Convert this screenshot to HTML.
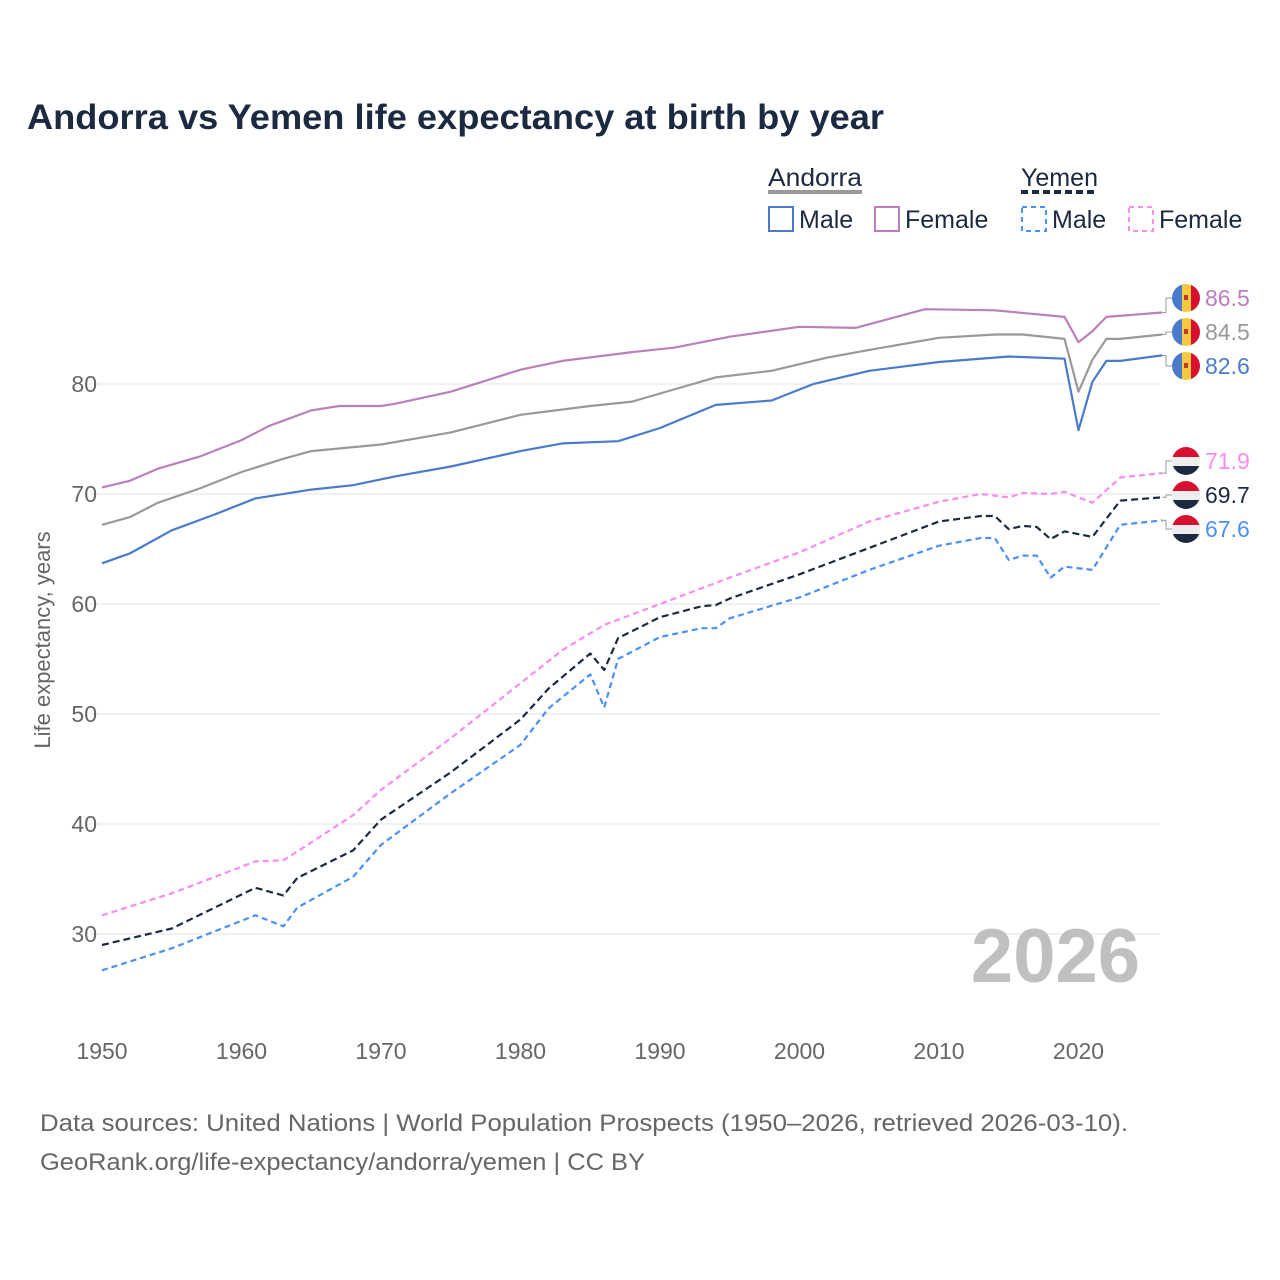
<!DOCTYPE html>
<html><head><meta charset="utf-8"><style>
html,body{margin:0;padding:0;background:#fff;width:1280px;height:1280px;overflow:hidden}
svg{display:block;font-family:"Liberation Sans",sans-serif}
</style></head><body>
<svg id="chart" width="1280" height="1280" viewBox="0 0 1280 1280">
<text x="27" y="129" font-size="35" font-weight="bold" fill="#1b2a41" textLength="857" lengthAdjust="spacingAndGlyphs">Andorra vs Yemen life expectancy at birth by year</text>
<g font-size="25" fill="#1b2a41">
 <text x="768" y="186" textLength="94" lengthAdjust="spacingAndGlyphs">Andorra</text>
 <line x1="768" y1="192" x2="862" y2="192" stroke="#999" stroke-width="4"/>
 <rect x="769" y="207" width="24" height="24" fill="none" stroke="#4a7bcb" stroke-width="2"/>
 <text x="799" y="228">Male</text>
 <rect x="875" y="207" width="24" height="24" fill="none" stroke="#bb7fbb" stroke-width="2"/>
 <text x="905" y="228">Female</text>
 <text x="1021" y="186" textLength="77" lengthAdjust="spacingAndGlyphs">Yemen</text>
 <line x1="1021" y1="192" x2="1098" y2="192" stroke="#1b2a41" stroke-width="4" stroke-dasharray="7,4"/>
 <rect x="1022" y="207" width="24" height="24" fill="none" stroke="#4a90f5" stroke-width="2" stroke-dasharray="5,4"/>
 <text x="1052" y="228">Male</text>
 <rect x="1129" y="207" width="24" height="24" fill="none" stroke="#f98cf2" stroke-width="2" stroke-dasharray="5,4"/>
 <text x="1159" y="228">Female</text>
</g>
<g id="grid"></g>
<g id="xaxis"></g>
<text transform="translate(50,640) rotate(-90)" text-anchor="middle" font-size="22" fill="#666">Life expectancy, years</text>
<text x="1140" y="982" text-anchor="end" font-size="76" font-weight="bold" fill="#c0c0c0">2026</text>
<g id="series"></g>
<g id="labels"></g>
<text x="40" y="1131" font-size="24" fill="#666" textLength="1088" lengthAdjust="spacingAndGlyphs">Data sources: United Nations | World Population Prospects (1950–2026, retrieved 2026-03-10).</text>
<text x="40" y="1170" font-size="24" fill="#666" textLength="605" lengthAdjust="spacingAndGlyphs">GeoRank.org/life-expectancy/andorra/yemen | CC BY</text>
</svg>
<script>
const yTicks=[30,40,50,60,70,80];
const xTicks=[1950,1960,1970,1980,1990,2000,2010,2020];
const andMaleYears=[1950,1952,1955,1958,1961,1965,1968,1971,1975,1980,1983,1987,1990,1994,1998,2001,2005,2010,2015,2019,2020,2021,2022,2023,2026];
const andMaleVals=[63.7,64.6,66.7,68.1,69.6,70.4,70.8,71.6,72.5,73.9,74.6,74.8,76.0,78.1,78.5,80.0,81.2,82.0,82.5,82.3,75.8,80.2,82.1,82.1,82.6];
const andTotYears=[1950,1952,1954,1957,1960,1963,1965,1970,1975,1980,1985,1988,1991,1994,1998,2002,2005,2010,2014,2016,2019,2020,2021,2022,2023,2026];
const andTotVals=[67.2,67.9,69.2,70.5,72.0,73.2,73.9,74.5,75.6,77.2,78.0,78.4,79.5,80.6,81.2,82.4,83.1,84.2,84.5,84.5,84.1,79.3,82.2,84.1,84.1,84.5];
const andFemYears=[1950,1952,1954,1957,1960,1962,1965,1967,1970,1971,1975,1980,1983,1988,1991,1995,2000,2004,2009,2014,2019,2020,2021,2022,2026];
const andFemVals=[70.6,71.2,72.3,73.4,74.9,76.2,77.6,78.0,78.0,78.2,79.3,81.3,82.1,82.9,83.3,84.3,85.2,85.1,86.8,86.7,86.1,83.8,84.8,86.1,86.5];
const yemFemYears=[1950,1955,1961,1963,1964,1968,1970,1975,1980,1983,1986,1990,1995,2000,2005,2010,2013,2015,2016,2018,2019,2021,2023,2026];
const yemFemVals=[31.7,33.7,36.6,36.7,37.5,40.8,43.1,47.8,52.8,55.8,58.1,60.0,62.4,64.7,67.5,69.3,70.0,69.7,70.1,70.0,70.2,69.2,71.5,71.9];
const yemTotYears=[1950,1955,1961,1963,1964,1968,1970,1975,1980,1982,1985,1986,1987,1990,1993,1994,1995,2000,2005,2010,2013,2014,2015,2016,2017,2018,2019,2021,2023,2026];
const yemTotVals=[29.0,30.5,34.2,33.5,35.1,37.6,40.4,44.7,49.5,52.3,55.5,54.0,56.9,58.8,59.8,59.9,60.5,62.7,65.1,67.5,68.0,68.0,66.8,67.1,67.0,65.9,66.6,66.1,69.4,69.7];
const yemMaleYears=[1950,1955,1961,1963,1964,1968,1970,1975,1980,1982,1985,1986,1987,1990,1993,1994,1995,2000,2005,2010,2013,2014,2015,2016,2017,2018,2019,2021,2023,2026];
const yemMaleVals=[26.7,28.7,31.7,30.7,32.4,35.2,38.1,42.8,47.2,50.5,53.6,50.6,55.0,57.0,57.8,57.8,58.7,60.6,63.1,65.3,66.0,66.0,64.0,64.4,64.4,62.4,63.4,63.1,67.2,67.6];

const NS='http://www.w3.org/2000/svg';
const x=yr=>102+(yr-1950)*13.95;
const y=v=>384+(80-v)*11;
function mk(tag,attrs,parent){const e=document.createElementNS(NS,tag);for(const k in attrs)e.setAttribute(k,attrs[k]);parent.appendChild(e);return e;}
const grid=document.getElementById('grid');
yTicks.forEach(t=>{
 const l=mk('line',{x1:90,x2:1160,y1:y(t),y2:y(t),stroke:'#ebebeb','stroke-width':1.5},grid);
 
 
 const tx=mk('text',{x:97,y:y(t)+8,'text-anchor':'end','font-size':23,fill:'#666'},grid);
 tx.textContent=t;
 
 
});
const xa=document.getElementById('xaxis');
xTicks.forEach(t=>{
 const tx=mk('text',{x:x(t),y:1059,'text-anchor':'middle','font-size':23,fill:'#666'},xa);
 tx.textContent=t;
 
 
});
const sg=document.getElementById('series');
function line(yrs,vals,color,dash,name){
 const d=yrs.map((yr,i)=>(i?'L':'M')+x(yr).toFixed(1)+','+y(vals[i]).toFixed(1)).join(' ');
 const p=mk('path',{d:d,fill:'none',stroke:color,'stroke-width':2.2,'stroke-linejoin':'round'},sg);
 if(dash)p.setAttribute('stroke-dasharray',dash);
 
 
}
line(andTotYears,andTotVals,'#999','', 'line-andorra-total');
line(andFemYears,andFemVals,'#bb7fbb','', 'line-andorra-female');
line(andMaleYears,andMaleVals,'#4a7bcb','', 'line-andorra-male');
line(yemFemYears,yemFemVals,'#f98cf2','6,4','line-yemen-female');
line(yemMaleYears,yemMaleVals,'#4a90f5','6,4','line-yemen-male');
line(yemTotYears,yemTotVals,'#1b2a41','7,4','line-yemen-total');

const lg=document.getElementById('labels');
function endLabel(vals,ly,color,flag,name){
 const v=vals[vals.length-1];
 const ex=x(2026), ey=y(v);
 mk('path',{d:`M${ex},${ey} L1166,${ey} L1166,${ly} L1172,${ly}`,fill:'none',stroke:'#999','stroke-width':1},lg);
 const g=mk('g',{},lg);
 
 
 const cx=1186,r=14;
 const cp=mk('clipPath',{id:'c'+name},g);
 mk('circle',{cx:cx,cy:ly,r:r},cp);
 const fg=mk('g',{'clip-path':'url(#c'+name+')'},g);
 if(flag==='ad'){
  mk('rect',{x:cx-r,y:ly-r,width:10,height:2*r,fill:'#4a7bcb'},fg);
  mk('rect',{x:cx-4,y:ly-r,width:9,height:2*r,fill:'#f7c940'},fg);
  mk('rect',{x:cx+5,y:ly-r,width:10,height:2*r,fill:'#d8102f'},fg);
  mk('rect',{x:cx-2,y:ly-3,width:4,height:5,fill:'#c0392b'},fg);
 }else{
  mk('rect',{x:cx-r,y:ly-r,width:2*r,height:10,fill:'#d8102f'},fg);
  mk('rect',{x:cx-r,y:ly-4,width:2*r,height:9,fill:'#eeeeee'},fg);
  mk('rect',{x:cx-r,y:ly+5,width:2*r,height:10,fill:'#1b2a41'},fg);
 }
 const t=mk('text',{x:1205,y:ly+8,'font-size':23,fill:color},lg);
 t.textContent=v.toFixed(1);
 
 
}
endLabel(andFemVals,298,'#bb7fbb','ad','andorra-female');
endLabel(andTotVals,332,'#999','ad','andorra-total');
endLabel(andMaleVals,366,'#4a7bcb','ad','andorra-male');
endLabel(yemFemVals,461,'#f98cf2','ye','yemen-female');
endLabel(yemTotVals,495,'#1b2a41','ye','yemen-total');
endLabel(yemMaleVals,529,'#4a90f5','ye','yemen-male');
</script>
</body></html>
